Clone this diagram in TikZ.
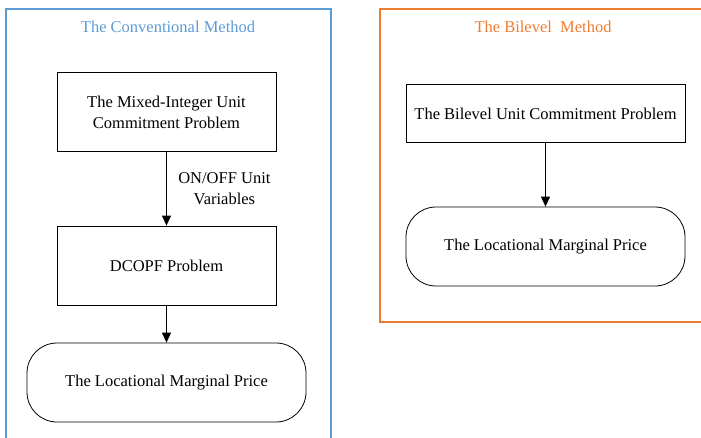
\documentclass[tikz,border=0pt]{standalone}
\usepackage{fontspec}
\setmainfont{Liberation Serif}
\usetikzlibrary{arrows.meta}
\definecolor{convblue}{HTML}{5B9BD5}
\definecolor{biorange}{HTML}{ED7D31}
\begin{document}
\begin{tikzpicture}[x=1pt,y=-1pt,
  every node/.style={font=\fontsize{16.5}{21}\selectfont},
  frame/.style={draw, line width=2pt},
  procbox/.style={draw, line width=0.8pt, minimum width=219pt, minimum height=79pt, align=center, inner sep=0pt},
  endbox/.style={draw, line width=0.8pt, rounded corners=30pt, minimum width=279pt, minimum height=79pt, align=center, inner sep=0pt},
  flow/.style={line width=1pt, -{Triangle[length=10pt,width=9pt]}}]
\useasboundingbox (0,0) rectangle (701,437);
% method frames
\draw[frame, convblue] (6,9) rectangle (331,450);
\draw[frame, biorange] (380,9) rectangle (710,322);
\node[text=convblue] (titleA) at (168,27) {The Conventional Method};
\node[text=biorange] (titleB) at (543,27) {The Bilevel\ \ Method};
% conventional method
\node[procbox] (muc) at (166.5,112) {The Mixed-Integer Unit\\Commitment Problem};
\node[procbox] (dcopf) at (166.5,265.5) {DCOPF Problem};
\node[endbox] (lmpA) at (166.5,382.5) {The Locational Marginal Price};
\draw[flow] (muc) -- node[right=8pt, align=center] {ON/OFF Unit\\Variables} (dcopf);
\draw[flow] (dcopf) -- (lmpA);
% bilevel method
\node[procbox, minimum width=279pt, minimum height=58pt] (buc) at (545.5,113.5) {The Bilevel Unit Commitment Problem};
\node[endbox] (lmpB) at (545.5,246.5) {The Locational Marginal Price};
\draw[flow] (buc) -- (lmpB);
\end{tikzpicture}
\end{document}
